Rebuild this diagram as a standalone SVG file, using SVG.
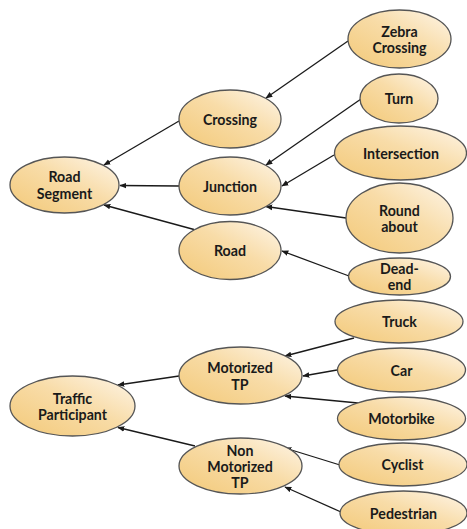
<svg xmlns="http://www.w3.org/2000/svg" width="467" height="529" viewBox="0 0 467 529">
  <defs>
    <linearGradient id="fill" x1="0" y1="1" x2="1" y2="0">
      <stop offset="0" stop-color="#f3c978"/>
      <stop offset="0.55" stop-color="#f8dca8"/>
      <stop offset="1" stop-color="#fef6ea"/>
    </linearGradient>
    <marker id="arrow" viewBox="0 0 10 10" refX="9" refY="5" markerWidth="7" markerHeight="7" markerUnits="userSpaceOnUse" orient="auto">
      <path d="M0,1 L10,5 L0,9 z" fill="#1a1a1a"/>
    </marker>
    <style>
      .node ellipse { fill: url(#fill); stroke: #555; stroke-width: 1.3; }
      .node text { font-family: Lato, "Liberation Sans", sans-serif; font-weight: bold; font-size: 14.2px; fill: #1a1a1a; text-anchor: middle; dominant-baseline: central; }
      .edges line { stroke: #1a1a1a; stroke-width: 1.3; marker-end: url(#arrow); }
    </style>
  </defs>
  <rect width="467" height="529" fill="#ffffff"/>

  <!-- connectors: child to parent -->
  <g class="edges">
    <line x1="348" y1="41" x2="266" y2="98"/>
    <line x1="179" y1="121" x2="104" y2="165"/>
    <line x1="361" y1="99" x2="266" y2="165"/>
    <line x1="334" y1="155" x2="282" y2="186"/>
    <line x1="179" y1="186" x2="120" y2="185.5"/>
    <line x1="346" y1="218" x2="266" y2="206.5"/>
    <line x1="194" y1="229.5" x2="104" y2="205"/>
    <line x1="349" y1="276" x2="282" y2="251"/>
    <line x1="354" y1="338" x2="285" y2="356"/>
    <line x1="337" y1="370" x2="303" y2="376"/>
    <line x1="358" y1="403" x2="285" y2="396"/>
    <line x1="179" y1="376" x2="118" y2="385"/>
    <line x1="195" y1="446" x2="118" y2="427.5"/>
    <line x1="340" y1="465" x2="285" y2="448"/>
    <line x1="341" y1="512" x2="285" y2="487"/>
  </g>

  <!-- road segment tree -->
  <g id="road-segment" class="node">
    <ellipse cx="64.5" cy="185" rx="54.5" ry="28"/>
    <text x="64.5" y="176.7">Road</text>
    <text x="64.5" y="193.3">Segment</text>
  </g>
  <g id="crossing" class="node">
    <ellipse cx="230" cy="119" rx="51" ry="29"/>
    <text x="230" y="119">Crossing</text>
  </g>
  <g id="junction" class="node">
    <ellipse cx="230" cy="186" rx="51" ry="29"/>
    <text x="230" y="186">Junction</text>
  </g>
  <g id="road" class="node">
    <ellipse cx="230" cy="250.5" rx="51" ry="29"/>
    <text x="230" y="250">Road</text>
  </g>
  <g id="zebra-crossing" class="node">
    <ellipse cx="399.5" cy="39" rx="51.5" ry="29"/>
    <text x="399.5" y="31">Zebra</text>
    <text x="399.5" y="47.5">Crossing</text>
  </g>
  <g id="turn" class="node">
    <ellipse cx="399" cy="98.5" rx="39" ry="24.5"/>
    <text x="399" y="98.5">Turn</text>
  </g>
  <g id="intersection" class="node">
    <ellipse cx="400.5" cy="153" rx="66" ry="27"/>
    <text x="401" y="153">Intersection</text>
  </g>
  <g id="round-about" class="node">
    <ellipse cx="399.5" cy="218" rx="53.5" ry="35"/>
    <text x="399.5" y="210">Round</text>
    <text x="399.5" y="226.5">about</text>
  </g>
  <g id="dead-end" class="node">
    <ellipse cx="399.5" cy="276.5" rx="51" ry="18.5"/>
    <text x="399.5" y="268">Dead-</text>
    <text x="399.5" y="284.5">end</text>
  </g>

  <!-- traffic participant tree -->
  <g id="traffic-participant" class="node">
    <ellipse cx="72.5" cy="406" rx="62.5" ry="30"/>
    <text x="72.5" y="398">Traffic</text>
    <text x="72.5" y="414.5">Participant</text>
  </g>
  <g id="motorized-tp" class="node">
    <ellipse cx="240.5" cy="375.5" rx="61.5" ry="28.5"/>
    <text x="240" y="367.7">Motorized</text>
    <text x="240" y="384.3">TP</text>
  </g>
  <g id="non-motorized-tp" class="node">
    <ellipse cx="240.5" cy="466" rx="61.5" ry="28"/>
    <text x="240" y="450">Non</text>
    <text x="240" y="466.5">Motorized</text>
    <text x="240" y="482.8">TP</text>
  </g>
  <g id="truck" class="node">
    <ellipse cx="399" cy="321.5" rx="64" ry="21.5"/>
    <text x="399.5" y="321.5">Truck</text>
  </g>
  <g id="car" class="node">
    <ellipse cx="401.5" cy="370" rx="64" ry="22"/>
    <text x="401.5" y="370">Car</text>
  </g>
  <g id="motorbike" class="node">
    <ellipse cx="401.5" cy="418.5" rx="64" ry="21.5"/>
    <text x="401.5" y="418.5">Motorbike</text>
  </g>
  <g id="cyclist" class="node">
    <ellipse cx="403" cy="464.5" rx="64" ry="21.5"/>
    <text x="402.5" y="464.5">Cyclist</text>
  </g>
  <g id="pedestrian" class="node">
    <ellipse cx="403.5" cy="513" rx="63.5" ry="22"/>
    <text x="403.5" y="513">Pedestrian</text>
  </g>
</svg>
